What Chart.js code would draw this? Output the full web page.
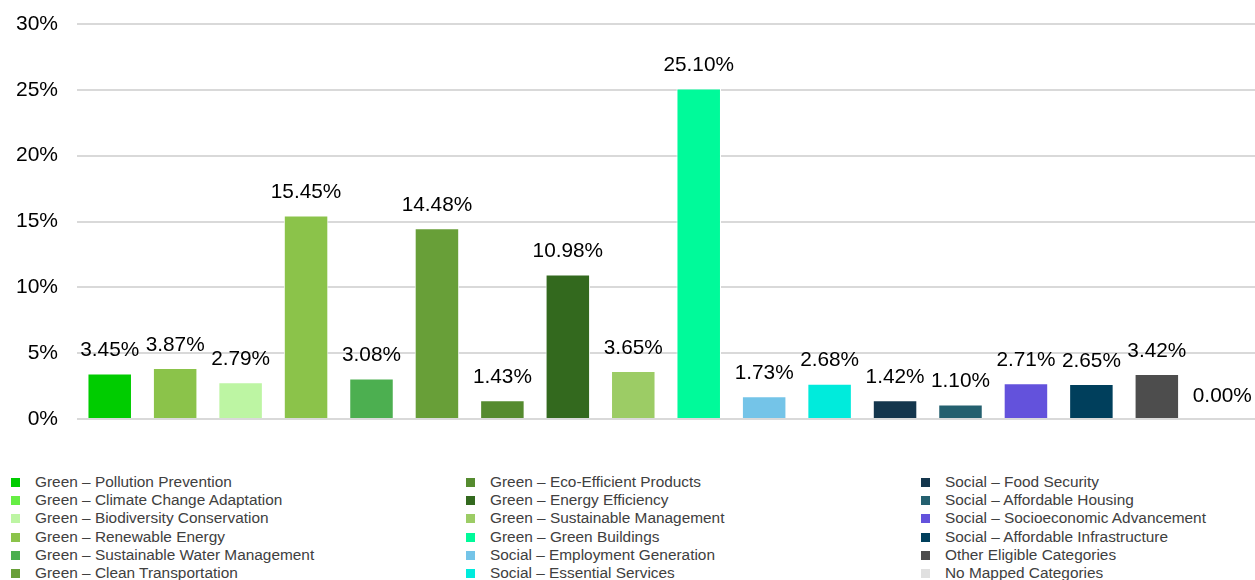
<!DOCTYPE html>
<html>
<head>
<meta charset="utf-8">
<script src="https://cdn.jsdelivr.net/npm/chart.js@4.4.1/dist/chart.umd.min.js"></script>
<style>
  html, body { margin: 0; padding: 0; background: #fff; }
  #wrap { position: relative; width: 1255px; height: 580px; overflow: hidden; font-family: "Liberation Sans", Arial, sans-serif; }
  #chart { position: absolute; left: 0; top: 0; }
  #legend { position: absolute; left: 0; top: 473px; width: 1255px; }
  .item { position: absolute; height: 18px; line-height: 18px; font-size: 15.4px; color: #404040; white-space: nowrap; }
  .sw { position: absolute; width: 9px; height: 9px; top: 5px; }
  .txt { position: absolute; }
</style>
</head>
<body>
<div id="wrap">
  <canvas id="chart" width="1255" height="441"></canvas>
  <div id="legend"></div>
</div>
<script>
// Allocation by eligible category (share of total)
const categories = [
  "Green – Pollution Prevention",
  "Green – Climate Change Adaptation",
  "Green – Biodiversity Conservation",
  "Green – Renewable Energy",
  "Green – Sustainable Water Management",
  "Green – Clean Transportation",
  "Green – Eco-Efficient Products",
  "Green – Energy Efficiency",
  "Green – Sustainable Management",
  "Green – Green Buildings",
  "Social – Employment Generation",
  "Social – Essential Services",
  "Social – Food Security",
  "Social – Affordable Housing",
  "Social – Socioeconomic Advancement",
  "Social – Affordable Infrastructure",
  "Other Eligible Categories",
  "No Mapped Categories"
];

const shares = [3.45, 3.87, 2.79, 15.45, 3.08, 14.48, 1.43, 10.98, 3.65, 25.10,
                1.73, 2.68, 1.42, 1.10, 2.71, 2.65, 3.42, 0.00];

const barColors = [
  "#00cc00", "#8bc34a", "#bdf5a3", "#8bc34a", "#4caf50", "#689f38",
  "#558b2f", "#33691e", "#9ccc65", "#00fa9a", "#74c4e8", "#00ebdc",
  "#14364d", "#24606f", "#6352dc", "#003f5c", "#4d4d4d", "#e0e0e0"
];

const swatchColors = [
  "#00cc00", "#66ee44", "#bdf5a3", "#8bc34a", "#4caf50", "#689f38",
  "#558b2f", "#33691e", "#9ccc65", "#00fa9a", "#74c4e8", "#00ebdc",
  "#14364d", "#24606f", "#6352dc", "#003f5c", "#4d4d4d", "#e0e0e0"
];

const yTicks = [0, 5, 10, 15, 20, 25, 30];

// Value labels above each bar
const valueLabels = {
  id: "valueLabels",
  afterDatasetsDraw(chart) {
    const ctx = chart.ctx;
    const meta = chart.getDatasetMeta(0);
    ctx.save();
    ctx.font = '20.8px "Liberation Sans", Arial, sans-serif';
    ctx.fillStyle = "#000";
    ctx.textAlign = "center";
    ctx.textBaseline = "middle";
    meta.data.forEach((bar, i) => {
      ctx.fillText(shares[i].toFixed(2) + "%", bar.x, bar.y - 23);
    });
    ctx.restore();
  }
};

const chart = new Chart(document.getElementById("chart"), {
  type: "bar",
  data: {
    labels: categories,
    datasets: [{
      data: shares,
      backgroundColor: barColors,
      borderColor: "#ffffff",
      borderWidth: 1,
      barPercentage: 0.68,
      categoryPercentage: 1.0
    }]
  },
  options: {
    responsive: false,
    animation: false,
    layout: { padding: { top: 24, right: 0, bottom: 22, left: 0 } },
    plugins: {
      legend: { display: false },
      tooltip: { enabled: false }
    },
    scales: {
      x: {
        display: false
      },
      y: {
        min: 0,
        max: 30,
        afterBuildTicks(axis) { axis.ticks = yTicks.map(v => ({ value: v })); },
        afterFit(axis) {
          axis.width = 77;
          axis.paddingTop = 0;
          axis.paddingBottom = 0;
        },
        border: { display: false },
        grid: { color: "#d9d9d9", lineWidth: 2, drawTicks: false },
        ticks: {
          padding: 19,
          color: "#000",
          font: { family: '"Liberation Sans", Arial, sans-serif', size: 21 },
          callback: v => v + "%"
        }
      }
    }
  },
  plugins: [valueLabels]
});

// Legend in three columns of six
const legend = document.getElementById("legend");
const colX = [11, 466, 921];
const rowH = 18.2;
categories.forEach((name, i) => {
  const col = Math.floor(i / 6), row = i % 6;
  const item = document.createElement("div");
  item.className = "item";
  item.style.left = colX[col] + "px";
  item.style.top = (row * rowH) + "px";
  const sw = document.createElement("span");
  sw.className = "sw";
  sw.style.left = "0px";
  sw.style.background = swatchColors[i];
  const tx = document.createElement("span");
  tx.className = "txt";
  tx.style.left = "24px";
  tx.textContent = name;
  item.appendChild(sw);
  item.appendChild(tx);
  legend.appendChild(item);
});
</script>
</body>
</html>
